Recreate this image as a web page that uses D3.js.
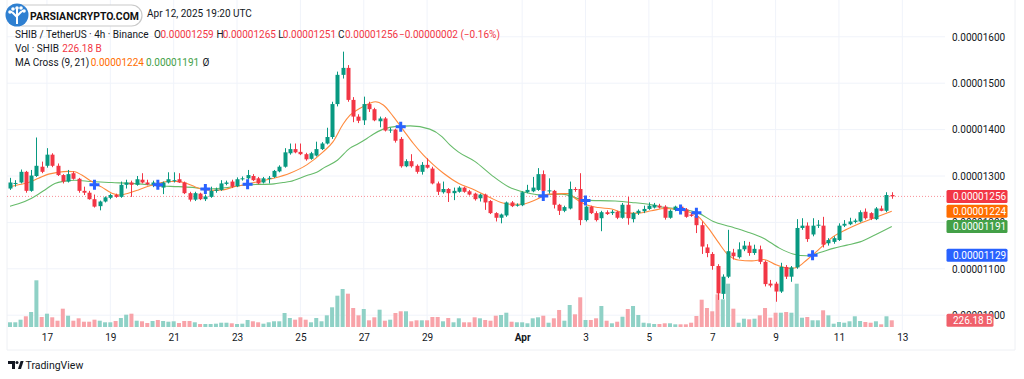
<!DOCTYPE html>
<html><head><meta charset="utf-8">
<script src="https://cdn.jsdelivr.net/npm/d3@7/dist/d3.min.js"></script>
<style>
body{margin:0;background:#fff;}
svg{display:block;font-family:Roboto,"Noto Sans","DejaVu Sans",sans-serif;}
</style></head><body>
<svg id="c" width="1024" height="379"></svg>
<script>
// ---- DATA (prices in units of 1e-6 USDT, volume in billions SHIB) ----
const firstCandleUTC = Date.UTC(2025, 2, 15, 20, 0);
const candleHours = 4;
const open = [12.73,12.84,12.86,13.09,12.68,13.00,13.20,13.22,13.46,13.22,13.02,12.88,13.06,12.94,12.68,12.64,12.50,12.35,12.45,12.53,12.59,12.55,12.81,12.86,12.81,12.92,12.86,12.81,12.85,12.75,12.86,12.90,12.93,12.86,12.63,12.49,12.62,12.50,12.55,12.68,12.70,12.83,12.88,12.78,12.93,12.95,13.00,12.95,12.86,12.94,12.98,13.10,13.20,13.49,13.58,13.52,13.47,13.37,13.44,13.58,13.70,13.84,14.55,15.18,15.33,14.64,14.28,14.20,14.55,14.44,14.18,14.24,13.98,14.00,13.80,13.21,13.32,13.22,13.09,13.24,13.16,12.84,12.65,12.72,12.63,12.66,12.75,12.67,12.62,12.52,12.60,12.46,12.20,12.10,12.15,12.43,12.36,12.37,12.65,12.67,12.70,13.04,12.68,12.68,12.38,12.25,12.30,12.72,12.72,12.05,12.34,12.20,12.09,12.22,12.20,12.23,12.10,12.38,12.07,12.20,12.24,12.29,12.32,12.36,12.34,12.10,12.27,12.34,12.28,12.17,12.14,11.94,11.46,11.32,11.06,10.46,10.83,11.35,11.25,11.42,11.50,11.34,11.42,11.15,10.68,10.68,10.51,11.04,10.83,11.03,11.88,11.93,11.74,11.93,11.93,11.55,11.58,11.62,11.93,11.96,12.01,12.02,12.23,12.20,12.07,12.30,12.25,12.59];
const high = [12.96,12.91,13.14,13.11,13.13,13.83,13.31,13.60,13.49,13.27,13.04,13.13,13.10,12.96,12.77,12.68,12.60,12.47,12.56,12.62,12.62,12.88,12.92,12.90,13.00,13.06,12.92,12.90,12.89,12.88,13.08,13.08,13.06,12.88,12.66,12.66,12.64,12.60,12.77,12.75,12.91,12.90,12.92,12.97,12.99,13.13,13.04,12.98,12.98,13.00,13.13,13.23,13.60,13.70,13.70,13.70,13.50,13.52,13.74,13.73,14.04,14.60,15.25,15.68,15.39,14.70,14.33,14.71,14.60,14.47,14.28,14.27,14.04,14.02,13.84,13.36,13.47,13.25,13.30,13.38,13.20,12.88,12.88,12.74,12.75,12.78,12.77,12.70,12.64,12.62,12.62,12.48,12.22,12.19,12.45,12.46,12.41,12.67,12.81,12.98,13.17,13.12,12.95,12.70,12.40,12.36,12.88,12.76,13.06,12.36,12.36,12.24,12.25,12.26,12.27,12.25,12.42,12.55,12.22,12.28,12.36,12.43,12.42,12.40,12.37,12.28,12.36,12.37,12.31,12.20,12.18,12.02,11.53,11.36,11.10,10.88,11.84,11.43,11.57,11.60,11.58,11.52,11.50,11.18,10.76,10.72,11.13,11.08,11.06,12.07,12.09,12.00,12.09,12.05,12.12,11.66,11.70,11.98,12.05,12.10,12.08,12.26,12.30,12.22,12.33,12.36,12.65,12.65];
const low = [12.70,12.77,12.84,12.64,12.66,12.98,13.06,13.18,13.19,13.00,12.84,12.86,12.92,12.64,12.59,12.49,12.32,12.26,12.43,12.50,12.53,12.53,12.73,12.55,12.79,12.84,12.80,12.76,12.74,12.61,12.84,12.86,12.85,12.61,12.45,12.46,12.48,12.46,12.53,12.64,12.68,12.80,12.74,12.76,12.90,12.92,12.89,12.82,12.84,12.84,12.96,13.08,13.18,13.46,13.49,13.45,13.33,13.35,13.42,13.56,13.68,13.80,14.50,15.10,14.60,14.16,14.14,14.10,14.38,14.18,14.05,13.96,13.93,13.72,13.18,13.19,13.18,13.05,13.03,13.16,12.82,12.59,12.62,12.44,12.48,12.64,12.64,12.58,12.47,12.45,12.27,12.18,12.02,11.98,12.12,12.33,12.34,12.35,12.63,12.65,12.68,12.66,12.62,12.30,12.16,12.22,12.28,12.66,11.94,12.02,12.18,12.02,11.81,12.16,12.16,12.07,12.08,11.95,12.00,12.16,12.20,12.27,12.30,12.30,12.06,12.08,12.24,12.24,12.10,12.12,11.77,11.32,11.25,10.98,10.33,10.35,10.80,11.20,11.22,11.38,11.28,11.30,11.10,10.62,10.60,10.29,10.48,10.78,10.72,11.00,11.84,11.58,11.70,11.88,11.46,11.50,11.54,11.60,11.90,11.94,11.98,12.00,12.06,12.05,12.05,12.24,12.22,12.51];
const close = [12.86,12.85,13.09,12.68,13.01,13.22,13.09,13.46,13.22,13.02,12.88,13.04,12.94,12.68,12.64,12.50,12.34,12.45,12.54,12.59,12.55,12.81,12.86,12.81,12.93,12.86,12.82,12.86,12.77,12.86,12.93,12.91,12.86,12.63,12.49,12.63,12.50,12.56,12.68,12.71,12.84,12.86,12.77,12.93,12.95,13.02,12.91,12.84,12.95,12.96,13.11,13.20,13.51,13.58,13.51,13.47,13.36,13.49,13.58,13.70,13.84,14.55,15.18,15.33,14.64,14.28,14.19,14.55,14.44,14.20,14.24,13.98,14.00,13.76,13.21,13.32,13.21,13.09,13.24,13.18,12.84,12.66,12.72,12.63,12.68,12.75,12.66,12.60,12.50,12.60,12.43,12.20,12.10,12.17,12.43,12.35,12.38,12.65,12.70,12.75,13.04,12.68,12.69,12.38,12.25,12.33,12.72,12.70,12.05,12.34,12.20,12.05,12.22,12.18,12.23,12.10,12.38,12.09,12.20,12.25,12.29,12.36,12.38,12.32,12.10,12.25,12.34,12.27,12.12,12.14,11.94,11.48,11.34,11.06,10.47,10.83,11.38,11.27,11.42,11.50,11.34,11.43,11.15,10.67,10.64,10.51,11.04,10.83,11.03,11.88,11.93,11.64,11.93,11.95,11.52,11.62,11.66,11.93,11.97,12.02,12.04,12.22,12.09,12.08,12.30,12.25,12.59,12.56];
const volume = [159,159,247,362,507,1578,338,450,328,213,619,382,213,294,179,179,247,213,159,159,203,304,416,450,213,193,135,203,237,203,179,193,135,203,203,159,101,101,101,112,145,145,125,101,112,237,193,159,112,159,193,193,473,304,247,328,247,159,304,193,395,666,1058,1284,1126,642,395,608,226,328,585,213,247,473,531,531,193,226,226,226,338,338,193,304,159,294,159,159,328,294,237,213,382,406,483,179,159,159,125,294,328,382,145,294,575,213,744,429,1004,237,237,294,710,213,125,179,348,608,710,406,145,125,101,101,125,125,91,91,91,145,372,923,642,531,1105,936,1464,619,145,281,260,281,395,642,314,483,483,507,483,1464,314,338,226,226,564,395,112,169,145,193,362,203,169,145,193,91,362,226.18];
// MA(9) and MA(21) at candle positions (candle index, value)
const ma9At = [0,1.6,3.5,5.4,7.3,9.1,11,12.3,13.6,15.5,17.4,19.3,20.8,22.4,24.3,26.2,28.1,30,31.9,33.5,35,36.9,38.8,40.4,42.2,44,46.7,49.9,53,56.2,59.3,61.2,63.1,64.4,66.3,68.2,69.2,70.7,72.6,74.5,76.4,78.3,80.2,82.1,85,88,91,93,95,97,98.8,100.7,102,104.5,106,107,108.9,111.4,114,116.5,119,121.5,124,126.6,128.5,130.4,132.3,134.1,136,137.9,140.5,142.7,145.2,147.7,149,150.9,153.4,155.9,158.5,161,163.5,167];
const ma9Val = [12.77,12.81,12.86,12.95,13.04,13.08,13.10,13.09,13.02,12.88,12.76,12.63,12.59,12.63,12.70,12.78,12.84,12.88,12.88,12.84,12.77,12.70,12.69,12.70,12.76,12.80,12.87,12.95,13.06,13.24,13.52,13.74,14.12,14.31,14.46,14.57,14.60,14.53,14.28,13.99,13.70,13.45,13.24,13.06,12.84,12.70,12.53,12.43,12.39,12.39,12.45,12.55,12.61,12.62,12.62,12.52,12.39,12.32,12.29,12.20,12.20,12.25,12.30,12.27,12.23,12.12,11.87,11.58,11.30,11.19,11.17,11.20,11.08,11.01,11.03,11.19,11.44,11.69,11.85,11.98,12.09,12.24];
const ma21At = [0,1.6,4.1,6.6,8.5,10.4,12.3,15.5,19.3,24.3,28.1,31.9,35,37,40.3,45,50,51.7,53,56.2,58.1,59.5,62,64.4,65.7,67.6,68.8,70.7,73.2,75.8,79.5,81.8,83.3,84.9,88.1,91.2,94.4,97.5,100.7,104.5,108.9,114.6,117.7,121.5,124,127.2,130.4,133.2,136.4,139.5,142.7,145.8,148.3,150.9,153.4,155.9,158.5,161,163.5,167];
const ma21Val = [12.35,12.40,12.52,12.70,12.84,12.89,12.91,12.88,12.86,12.83,12.79,12.77,12.75,12.72,12.74,12.81,12.83,12.86,12.88,13.01,13.08,13.18,13.34,13.60,13.68,13.81,13.90,14.01,14.07,14.08,14.01,13.85,13.67,13.52,13.31,13.02,12.77,12.65,12.59,12.61,12.48,12.46,12.43,12.38,12.32,12.29,12.20,12.02,11.91,11.80,11.66,11.44,11.32,11.28,11.35,11.44,11.51,11.58,11.71,11.91];
const crossAt = [16,28,37,45,74,101,109,127,130,152];
const crossVal = [12.81,12.81,12.72,12.82,14.06,12.57,12.47,12.28,12.21,11.29];
const priceTicks = [10,11,12,13,14,15,16];
const dateTicks = [[2,17],[2,19],[2,21],[2,23],[2,25],[2,27],[2,29],[3,1],[3,3],[3,5],[3,7],[3,9],[3,11],[3,13]];
const dateLabels = ["17","19","21","23","25","27","29","Apr","3","5","7","9","11","13"];
const lastPrice = 12.56, ma9Last = 12.24, ma21Last = 11.91, lastCross = 11.29, lastVol = 226.18;

// ---- LAYOUT ----
const UP = "#089981", DOWN = "#f23645";
const UPV = "#8fd1c6", DOWNV = "#f8a3a9";
const paneL = 7, paneR = 945, paneT = 0, paneB = 330;
const svg = d3.select("#c");
const step = candleHours * 3600 * 1000;
const tOf = i => new Date(firstCandleUTC + i * step);
const x = d3.scaleUtc().domain([tOf(0), tOf(167)]).range([10, 10 + 5.28 * 167]);
const y = d3.scaleLinear().domain([10, 16]).range([315.2, 36.8]);
const vy = d3.scaleLinear().domain([0, 1690]).range([327, 277]);
const fmt = v => (v * 1e-6).toFixed(8);

svg.append("rect").attr("width", 1024).attr("height", 379).attr("fill", "#fff");
svg.append("defs").append("clipPath").attr("id", "pane").append("rect")
  .attr("x", paneL).attr("y", paneT).attr("width", paneR - paneL).attr("height", paneB - paneT);

// grid
const grid = svg.append("g");
grid.selectAll("line.h").data(priceTicks).join("line")
  .attr("x1", paneL).attr("x2", paneR).attr("y1", d => y(d)).attr("y2", d => y(d))
  .attr("stroke", "#f0f3fa").attr("stroke-width", 1);
const tickDates = dateTicks.map(d => new Date(Date.UTC(2025, d[0], d[1])));
grid.selectAll("line.v").data(tickDates).join("line")
  .attr("x1", d => x(d)).attr("x2", d => x(d)).attr("y1", paneT).attr("y2", paneB)
  .attr("stroke", "#f0f3fa").attr("stroke-width", 1);

// pane borders
svg.append("line").attr("x1", paneL).attr("x2", paneL).attr("y1", 0).attr("y2", 350).attr("stroke", "#eef0f4");
svg.append("line").attr("x1", 1015).attr("x2", 1015).attr("y1", 0).attr("y2", 350).attr("stroke", "#eef0f4");
svg.append("line").attr("x1", paneL).attr("x2", 1015).attr("y1", 350).attr("y2", 350).attr("stroke", "#eef0f4");

const plot = svg.append("g").attr("clip-path", "url(#pane)");
const idx = d3.range(open.length);

// volume
plot.append("g").selectAll("rect").data(idx).join("rect")
  .attr("x", i => x(tOf(i)) - 2).attr("width", 4)
  .attr("y", i => vy(volume[i])).attr("height", i => vy(0) - vy(volume[i]))
  .attr("fill", i => close[i] >= open[i] ? UPV : DOWNV);

// last price dotted line
plot.append("line").attr("x1", paneL).attr("x2", paneR)
  .attr("y1", y(lastPrice)).attr("y2", y(lastPrice))
  .attr("stroke", DOWN).attr("stroke-opacity", 0.55).attr("stroke-dasharray", "1,2");

// MA lines
const line = d3.line().x(d => x(tOf(d[0]))).y(d => y(d[1])).curve(d3.curveMonotoneX);
plot.append("path").datum(ma21At.map((a, k) => [a, ma21Val[k]]))
  .attr("d", line).attr("fill", "none").attr("stroke", "#66bb6a").attr("stroke-width", 1.1);
plot.append("path").datum(ma9At.map((a, k) => [a, ma9Val[k]]))
  .attr("d", line).attr("fill", "none").attr("stroke", "#ff8a3d").attr("stroke-width", 1.1);

// candles
const cg = plot.append("g");
cg.selectAll("line").data(idx).join("line")
  .attr("x1", i => Math.round(x(tOf(i))) + 0.5).attr("x2", i => Math.round(x(tOf(i))) + 0.5)
  .attr("y1", i => y(high[i])).attr("y2", i => y(low[i]))
  .attr("stroke", i => close[i] >= open[i] ? UP : DOWN).attr("stroke-width", 1);
cg.selectAll("rect").data(idx).join("rect")
  .attr("x", i => Math.round(x(tOf(i))) - 1.5).attr("width", 4)
  .attr("y", i => y(Math.max(open[i], close[i])))
  .attr("height", i => Math.max(1, Math.abs(y(open[i]) - y(close[i]))))
  .attr("fill", i => close[i] >= open[i] ? UP : DOWN);

// crosses
const cr = plot.append("g").selectAll("g").data(crossAt.map((a, k) => [a, crossVal[k]])).join("g")
  .attr("transform", d => `translate(${x(tOf(d[0]))},${y(d[1])})`);
cr.append("path").attr("d", "M-5,0H5M0,-5V5").attr("stroke", "#2962ff").attr("stroke-width", 3);

// price axis
const ya = svg.append("g").attr("transform", "translate(952,0)")
  .call(d3.axisRight(y).tickValues(priceTicks).tickFormat(fmt).tickSize(0).tickPadding(0));
ya.select(".domain").remove();
ya.selectAll("text").attr("font-size", 10).attr("fill", "#131722").attr("font-family", "Roboto");

// time axis
const xa = svg.append("g").attr("transform", "translate(0,334)")
  .call(d3.axisBottom(x).tickValues(tickDates).tickFormat((d, k) => dateLabels[k]).tickSize(0).tickPadding(0));
xa.select(".domain").remove();
xa.selectAll("text").attr("font-size", 10).attr("fill", "#131722").attr("font-family", "Roboto")
  .attr("font-weight", (d, k) => dateLabels[k] === "Apr" ? 700 : 400);

// price labels
function tag(val, yy, color, text, w) {
  const g = svg.append("g");
  g.append("rect").attr("x", 946.5).attr("y", yy - 6.5).attr("width", w).attr("height", 13)
    .attr("rx", 1.5).attr("fill", color);
  g.append("text").attr("x", 953).attr("y", yy + 3.6).attr("fill", "#fff")
    .attr("font-size", 10).text(text);
}
tag(lastPrice, y(lastPrice), "#f23645", fmt(lastPrice), 61);
tag(ma9Last, y(ma9Last), "#ff6d00", fmt(ma9Last), 61);
tag(ma21Last, y(ma21Last), "#43a047", fmt(ma21Last), 61);
tag(lastCross, y(lastCross), "#2962ff", fmt(lastCross), 61);
tag(lastVol, vy(lastVol), "#f0606b", lastVol.toFixed(2) + " B", 47);

// legend
const lg = svg.append("g").attr("font-size", 10);
function t(xx, yy, s, c) { lg.append("text").attr("x", xx).attr("y", yy).attr("fill", c).text(s); }
t(147, 16.5, "Apr 12, 2025 19:20 UTC", "#131722");
t(15, 38, "SHIB / TetherUS · 4h · Binance", "#131722");
t(154, 38, "O", "#131722"); t(160.5, 38, fmt(open[167]), DOWN);
t(216.5, 38, "H", "#131722"); t(222.7, 38, fmt(high[167]), DOWN);
t(278.3, 38, "L", "#131722"); t(282.8, 38, fmt(low[167]), DOWN);
t(338, 38, "C", "#131722"); t(345, 38, fmt(close[167]), DOWN);
t(399, 38, "−0.00000002 (−0.16%)", DOWN);
t(15, 52, "Vol · SHIB", "#131722"); t(62.3, 52, "226.18 B", DOWN);
t(15, 66, "MA Cross (9, 21)", "#131722");
t(90.7, 66, fmt(ma9Last), "#ff6d00"); t(146, 66, fmt(ma21Last), "#43a047");
t(202.5, 66, "Ø", "#131722");

// watermark badge (top-left)
const b = svg.append("g");
b.append("rect").attr("x", 12).attr("y", 5).attr("width", 130).attr("height", 21).attr("rx", 10.5)
  .attr("fill", "#fff").attr("stroke", "#c9c9c9").attr("stroke-width", 1.2);
b.append("circle").attr("cx", 17).attr("cy", 15).attr("r", 11.5).attr("fill", "#2f80d1");
b.append("path").attr("d", "M17,24V14M17,17L12,12M17,16L22,11M12,12h-2M22,11h2M17,14V8")
  .attr("stroke", "#fff").attr("stroke-width", 2).attr("fill", "none");
b.selectAll("circle.d").data([[10,12],[24,11],[17,8],[13,9],[21,8]]).join("circle")
  .attr("cx", d => d[0]).attr("cy", d => d[1]).attr("r", 1.8).attr("fill", "#fff");
b.append("text").attr("x", 30).attr("y", 19.5).attr("font-size", 10.5).attr("font-weight", 700)
  .attr("fill", "#111").attr("textLength", 109).attr("lengthAdjust", "spacingAndGlyphs").text("PARSIANCRYPTO.COM");

// TradingView mark (bottom-left)
const tv = svg.append("g").attr("fill", "#131722");
tv.append("path").attr("d", "M8,361h7v8h-3v-5h-4z");
tv.append("circle").attr("cx", 17).attr("cy", 362.5).attr("r", 1.5);
tv.append("path").attr("d", "M18,369l2.6,-8h3l-2.6,8z");
tv.append("text").attr("x", 25.5).attr("y", 368.5).attr("font-size", 10.5).text("TradingView");
</script>
</body></html>
